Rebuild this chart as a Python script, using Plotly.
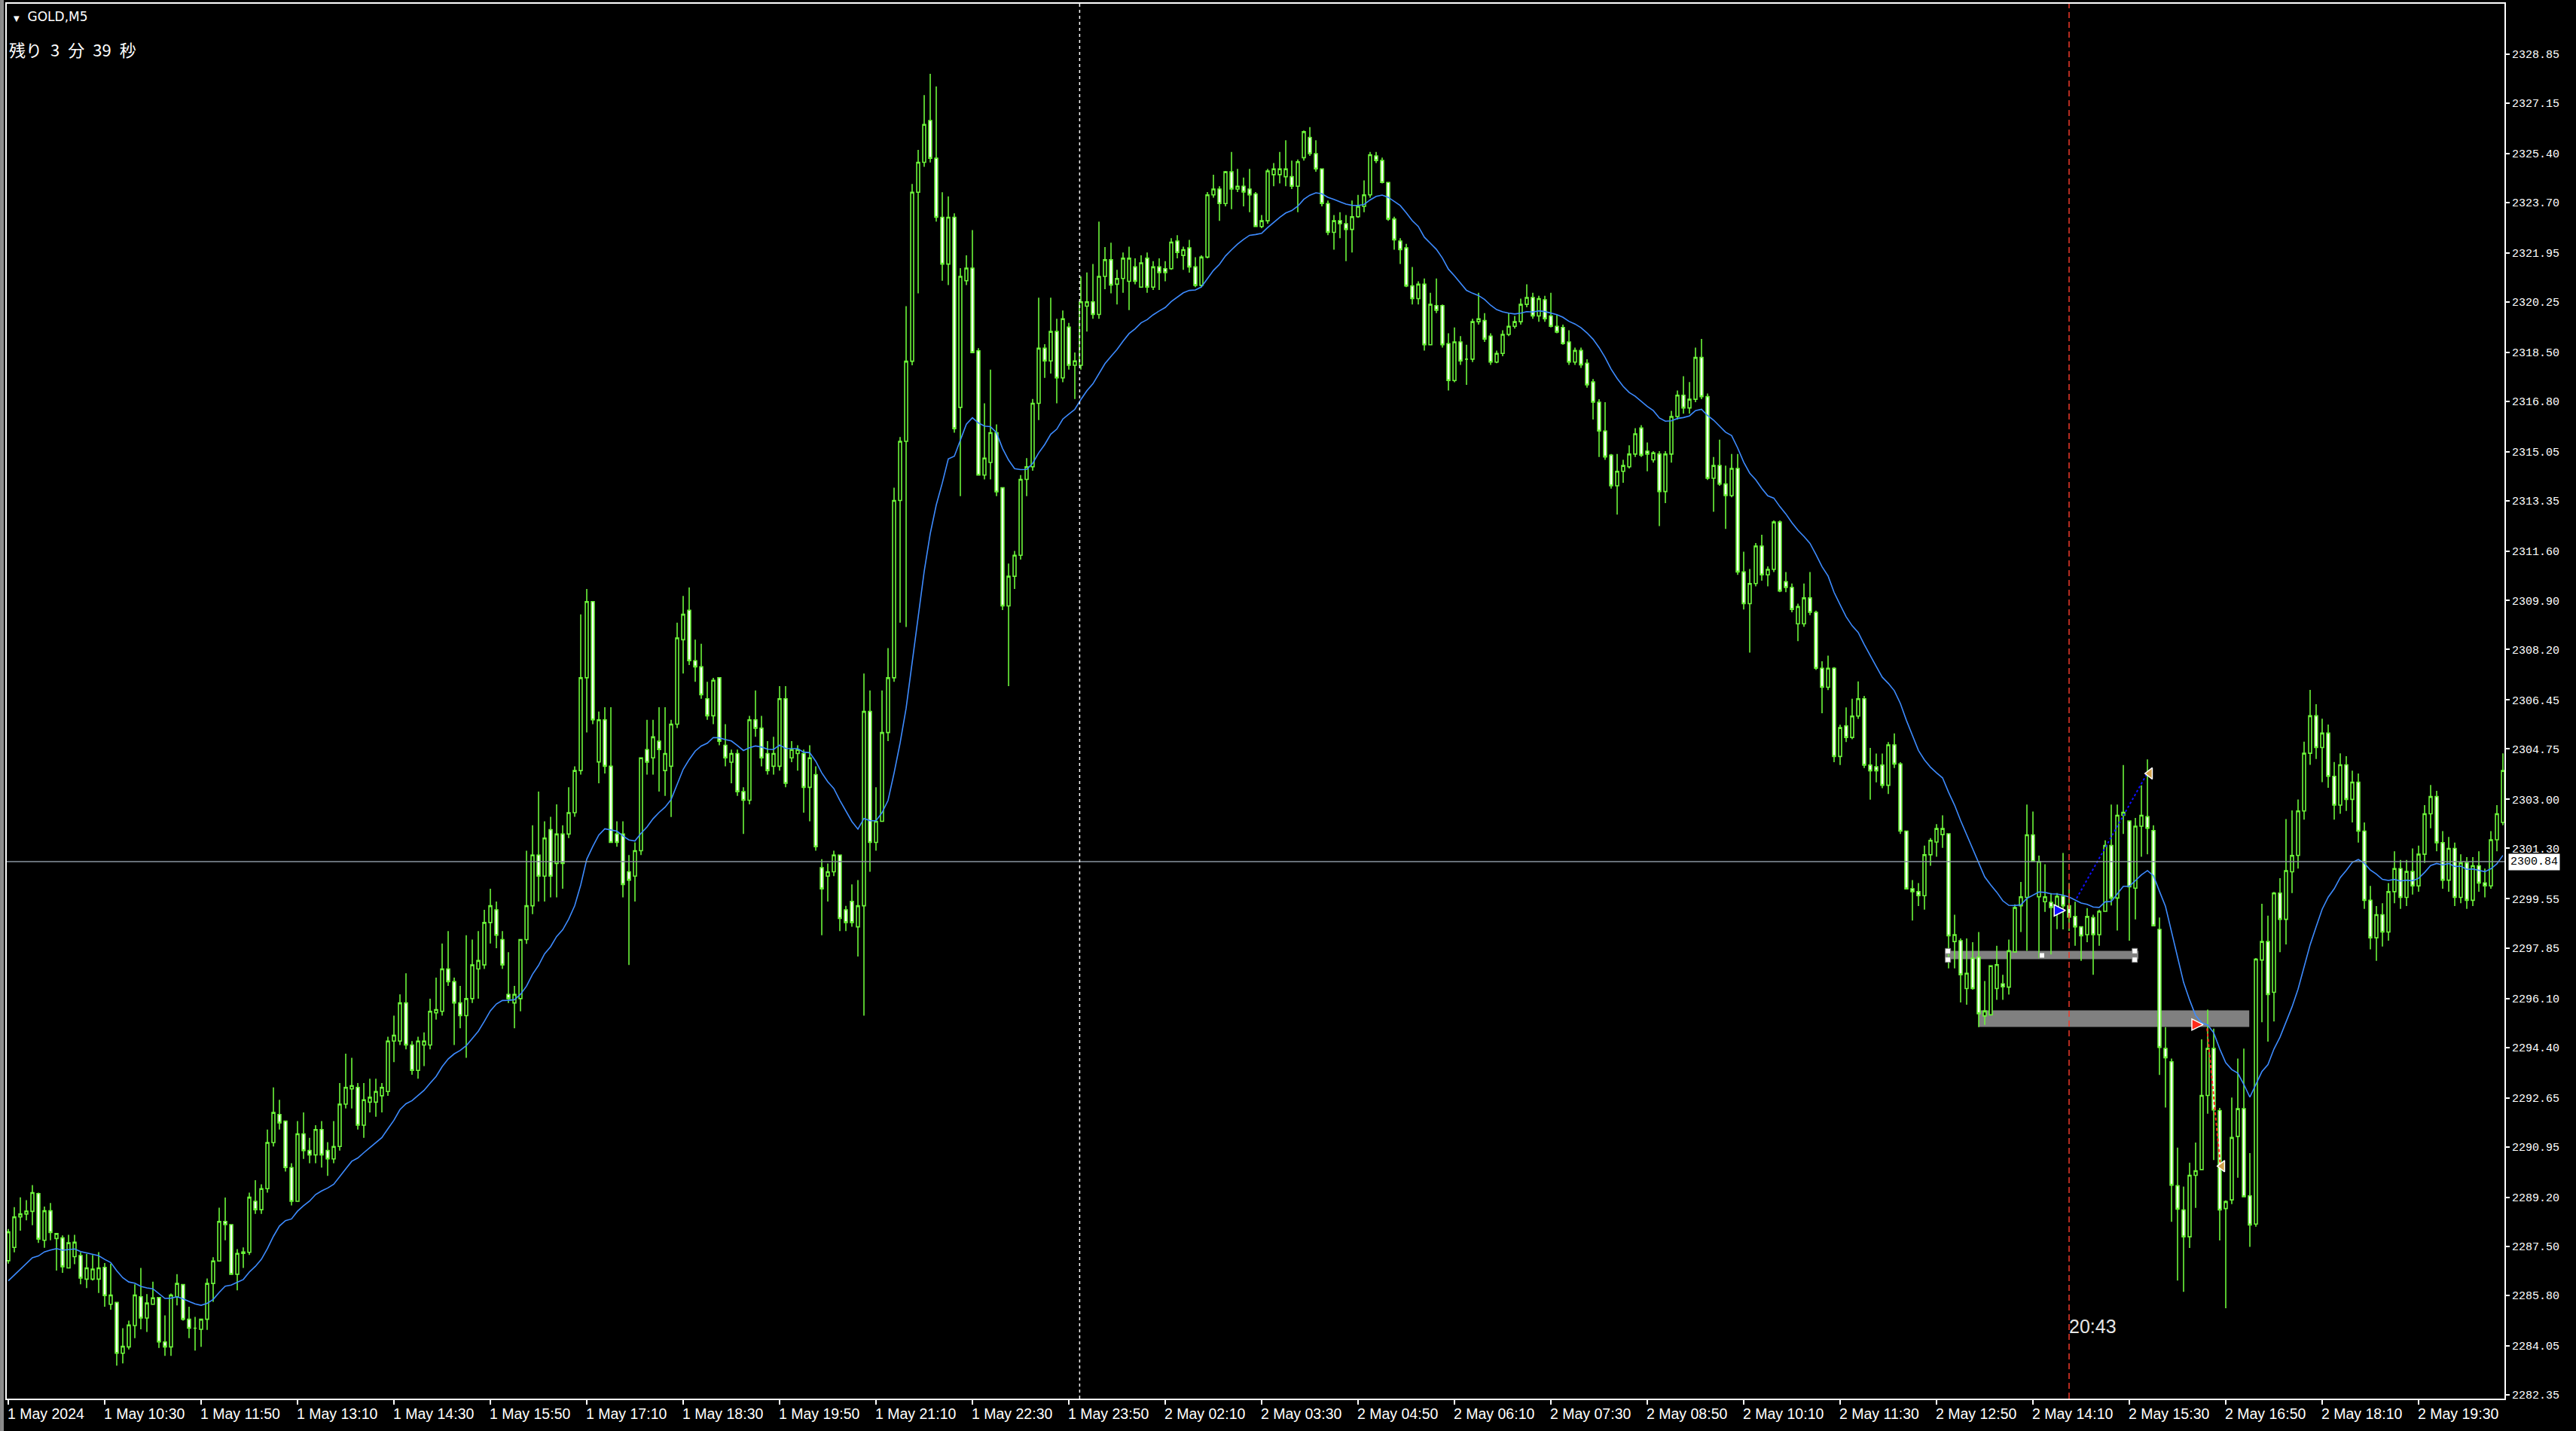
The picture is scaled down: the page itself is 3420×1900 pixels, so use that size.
import plotly.graph_objects as go

# ---------------- data ----------------
opens = [
 2287.0,2287.46,2288.52,2288.62,2288.71,2289.33,2287.71,2288.73,2287.77,2287.79,
 2286.75,2287.14,2287.18,2286.36,2286.36,2286.36,2286.77,2285.49,2285.55,2283.79,
 2284.01,2284.75,2285.75,2285.01,2285.49,2285.72,2284.18,2284.01,2285.75,2286.17,
 2284.97,2284.66,2284.62,2284.97,2286.21,2286.99,2288.36,2288.25,2286.53,2287.25,
 2287.29,2289.06,2288.77,2289.5,2291.1,2292.07,2291.84,2290.23,2289.06,2291.4,
 2290.82,2290.67,2291.55,2290.82,2290.53,2290.96,2292.43,2292.96,2293.01,2291.7,
 2292.5,2292.5,2292.72,2292.87,2294.62,2294.62,2295.94,2294.48,2293.6,2294.48,
 2294.48,2295.6,2295.65,2297.12,2296.68,2295.94,2295.5,2296.09,2297.12,2297.26,
 2298.73,2299.17,2298.14,2296.24,2295.94,2296.09,2298.14,2299.31,2301.07,2300.34,
 2301.95,2300.78,2301.8,2301.8,2302.54,2304.0,2307.22,2309.86,2304.3,2305.76,
 2304.15,2301.8,2301.8,2300.49,2300.34,2301.22,2304.73,2304.44,2305.02,2304.0,
 2304.15,2305.61,2308.54,2309.56,2307.81,2307.6,2306.49,2305.9,2307.22,2304.88,
 2304.29,2304.59,2303.27,2302.97,2305.76,2305.47,2304.59,2304.15,2304.15,2306.49,
 2304.44,2304.59,2304.59,2303.42,2303.86,2300.63,2300.34,2300.49,2301.07,2299.17,
 2299.46,2298.58,2299.31,2306.05,2301.51,2302.24,2305.32,2307.22,2313.37,2315.42,
 2318.2,2324.06,2325.1,2326.55,2325.24,2323.19,2321.57,2323.19,2316.6,2320.99,
 2321.43,2318.56,2314.25,2314.69,2315.72,2313.81,2309.71,2310.74,2311.47,2314.1,
 2314.54,2316.74,2318.65,2318.21,2319.23,2317.62,2319.38,2318.06,2318.06,2320.11,
 2320.26,2319.82,2321.14,2321.72,2320.87,2321.07,2320.97,2321.47,2320.77,2321.77,
 2320.77,2321.47,2321.41,2321.41,2322.37,2321.87,2322.13,2321.47,2320.83,2321.81,
 2323.97,2324.17,2323.67,2324.77,2324.17,2324.27,2324.17,2324.0,2322.87,2323.07,
 2324.67,2324.67,2324.6,2324.6,2324.27,2325.26,2325.96,2325.4,2324.87,2323.67,
 2322.67,2323.07,2322.97,2322.77,2323.21,2323.57,2323.97,2325.32,2325.16,2324.4,
 2323.13,2322.37,2322.13,2320.81,2320.37,2320.87,2318.77,2320.13,2320.13,2318.81,
 2317.53,2318.87,2318.27,2318.27,2319.57,2319.61,2319.07,2318.17,2318.47,2319.13,
 2319.41,2319.57,2320.17,2320.41,2319.77,2320.33,2319.77,2319.41,2319.37,2318.87,
 2318.17,2318.57,2318.13,2317.48,2316.78,2315.78,2314.94,2313.88,2314.38,2314.54,
 2314.98,2315.88,2315.08,2314.78,2314.98,2313.68,2314.98,2316.28,2317.02,2316.58,
 2316.88,2318.33,2316.97,2314.14,2314.58,2313.94,2313.54,2314.48,2310.89,2309.79,
 2310.49,2311.79,2310.79,2310.98,2312.62,2310.55,2310.35,2309.09,2309.09,2309.99,
 2309.49,2307.55,2306.89,2307.55,2304.49,2305.55,2305.15,2305.89,2306.49,2304.19,
 2304.13,2304.19,2303.49,2304.89,2304.23,2301.9,2299.9,2299.8,2299.66,2301.08,
 2301.52,2301.78,2301.81,2298.07,2298.1,2296.44,2297.49,2297.53,2295.49,2295.53,
 2296.44,2296.6,2296.49,2297.71,2299.31,2299.6,2301.77,2299.62,2299.45,2299.43,
 2299.25,2299.64,2299.31,2298.94,2298.58,2298.31,2298.9,2298.31,2299.12,2301.4,
 2299.58,2302.45,2302.25,2299.92,2302.07,2302.4,2301.92,2298.49,2294.36,2293.9,
 2289.6,2288.76,2287.83,2289.96,2290.16,2292.73,2294.36,2292.21,2288.81,2289.11,
 2291.31,2292.27,2289.25,2288.27,2297.43,2298.07,2296.31,2299.75,2298.84,2300.49,
 2301.06,2302.6,2304.6,2305.9,2304.8,2305.3,2303.8,2302.8,2304.2,2303.0,
 2303.6,2301.9,2299.5,2298.2,2299.0,2298.4,2299.8,2300.6,2299.6,2300.5,
 2300.0,2301.1,2302.5,2303.1,2301.5,2300.2,2301.3,2299.6,2300.8,2299.5,
 2300.7,2300.1,2300.0,2301.6,2302.2,
]
highs = [
 2288.1,2288.86,2289.2,2289.1,2289.62,2289.36,2288.88,2289.0,2287.94,2287.88,
 2287.9,2287.9,2287.3,2287.23,2287.2,2287.3,2286.92,2286.9,2285.55,2284.66,
 2284.92,2286.18,2286.75,2285.84,2286.27,2285.72,2285.1,2285.86,2286.53,2286.17,
 2285.4,2285.05,2284.97,2286.38,2287.12,2288.84,2289.19,2288.25,2287.4,2287.46,
 2289.36,2289.79,2289.65,2291.55,2293.01,2292.58,2291.84,2290.38,2291.84,2292.14,
 2291.26,2291.7,2291.84,2291.11,2291.84,2293.16,2294.18,2294.04,2293.16,2293.16,
 2293.31,2293.31,2293.16,2294.77,2295.5,2296.24,2296.97,2294.62,2294.77,2294.92,
 2296.09,2296.82,2298.0,2298.43,2296.82,2296.53,2298.29,2298.14,2298.43,2299.17,
 2299.9,2299.46,2298.43,2297.7,2296.53,2298.14,2301.22,2302.1,2303.27,2302.24,
 2302.4,2302.83,2302.1,2303.42,2304.15,2309.42,2310.3,2309.86,2306.05,2306.2,
 2306.2,2302.24,2302.24,2301.07,2301.51,2304.44,2305.76,2305.76,2306.2,2306.2,
 2305.76,2309.13,2310.06,2310.35,2308.54,2308.4,2307.08,2307.22,2307.22,2305.61,
 2304.73,2304.73,2303.42,2305.9,2306.78,2305.9,2305.02,2305.17,2306.93,2306.93,
 2305.02,2304.88,2304.73,2304.88,2304.15,2300.93,2300.78,2301.22,2301.07,2299.31,
 2300.05,2300.2,2307.37,2306.78,2303.42,2306.78,2308.25,2313.81,2315.57,2320.11,
 2324.35,2325.53,2327.43,2328.17,2327.73,2324.06,2323.92,2323.33,2321.43,2321.87,
 2322.75,2318.65,2316.74,2317.91,2316.01,2313.81,2311.18,2311.62,2314.25,2314.84,
 2316.89,2320.4,2318.79,2320.4,2319.67,2319.96,2319.53,2318.5,2321.14,2321.28,
 2321.57,2323.04,2322.16,2322.31,2321.37,2321.97,2322.17,2321.77,2321.87,2321.97,
 2321.67,2321.77,2321.67,2322.47,2322.57,2322.17,2322.41,2321.81,2321.87,2324.07,
 2324.67,2324.27,2324.8,2325.46,2324.87,2324.57,2324.87,2324.07,2323.27,2324.87,
 2325.07,2325.46,2325.86,2325.16,2325.2,2326.2,2326.32,2325.86,2324.87,2323.77,
 2323.27,2323.37,2323.27,2323.77,2323.97,2324.47,2325.46,2325.46,2325.26,2324.4,
 2323.21,2322.47,2322.27,2321.47,2320.97,2321.07,2320.57,2321.07,2320.17,2319.17,
 2319.37,2319.07,2318.77,2319.67,2320.57,2319.87,2319.17,2318.57,2319.27,2319.87,
 2319.77,2320.37,2320.87,2320.57,2320.47,2320.47,2320.57,2319.81,2319.47,2319.27,
 2318.67,2318.67,2318.27,2317.58,2316.88,2316.78,2314.98,2314.98,2314.78,2315.28,
 2315.88,2315.98,2315.38,2315.08,2315.08,2315.08,2316.48,2317.18,2317.68,2317.48,
 2318.67,2318.97,2317.08,2314.88,2315.48,2314.58,2314.98,2314.98,2311.59,2310.99,
 2311.89,2312.18,2311.08,2312.68,2312.68,2310.89,2310.49,2309.79,2310.49,2310.89,
 2309.55,2307.79,2307.99,2307.59,2305.59,2306.19,2306.49,2307.09,2306.59,2304.79,
 2304.59,2304.59,2304.99,2305.29,2304.29,2301.9,2300.2,2300.1,2301.4,2301.66,
 2302.14,2302.45,2301.81,2299.0,2298.18,2298.18,2298.05,2298.4,2296.7,2297.23,
 2297.92,2296.92,2298.14,2299.36,2300.14,2302.82,2302.58,2301.05,2300.75,2299.75,
 2299.75,2301.14,2300.1,2299.45,2298.58,2299.23,2299.0,2299.18,2301.58,2302.82,
 2302.82,2304.19,2302.25,2302.36,2303.49,2304.39,2302.1,2298.9,2295.1,2294.01,
 2290.92,2289.57,2290.4,2291.1,2294.68,2295.71,2295.05,2292.3,2289.09,2292.66,
 2294.01,2294.36,2290.73,2297.5,2299.38,2298.97,2299.79,2300.27,2302.32,2302.62,
 2303.0,2305.0,2306.8,2306.3,2305.8,2305.6,2304.3,2304.6,2304.5,2304.0,
 2303.9,2302.2,2300.0,2299.3,2299.4,2300.1,2301.2,2300.9,2300.9,2301.3,
 2301.4,2302.8,2303.5,2303.3,2301.9,2301.7,2301.5,2301.1,2301.0,2301.0,
 2301.2,2300.6,2301.9,2302.8,2304.6,
]
lows = [
 2286.9,2287.29,2288.04,2288.4,2288.23,2287.62,2287.45,2287.71,2286.66,2286.58,
 2286.75,2286.88,2286.18,2286.05,2286.31,2285.88,2285.4,2285.3,2283.36,2283.44,
 2283.92,2284.31,2284.62,2284.53,2285.49,2283.97,2283.7,2283.7,2285.45,2284.92,
 2284.31,2283.88,2284.01,2284.6,2285.57,2286.99,2287.71,2286.53,2285.97,2286.75,
 2287.2,2288.62,2288.62,2289.36,2290.96,2291.55,2290.09,2288.92,2289.06,2290.53,
 2290.38,2290.38,2290.23,2289.94,2290.38,2290.82,2292.28,2292.28,2291.55,2291.26,
 2292.14,2291.99,2292.14,2292.72,2293.89,2294.48,2294.33,2293.45,2293.31,2293.75,
 2294.33,2295.36,2295.5,2296.53,2294.48,2295.06,2294.04,2295.94,2296.09,2297.12,
 2298.0,2297.84,2297.12,2295.94,2295.06,2295.65,2297.99,2299.02,2299.46,2299.46,
 2299.6,2299.6,2299.9,2301.66,2302.4,2303.86,2305.32,2305.61,2303.56,2303.9,
 2301.5,2301.36,2299.6,2297.26,2299.46,2301.07,2303.86,2303.86,2303.27,2303.12,
 2302.39,2305.47,2307.37,2307.66,2307.08,2306.49,2305.76,2305.61,2304.88,2304.15,
 2303.56,2303.12,2301.8,2302.83,2305.17,2304.15,2303.86,2303.86,2304.0,2303.42,
 2304.29,2304.0,2302.54,2302.24,2301.22,2298.29,2299.46,2300.34,2298.43,2298.43,
 2298.58,2297.55,2295.5,2300.49,2301.22,2302.24,2305.02,2307.08,2309.13,2308.98,
 2318.06,2320.55,2324.94,2325.09,2323.04,2320.99,2320.84,2315.72,2313.52,2320.84,
 2318.5,2314.25,2314.1,2314.1,2313.52,2309.57,2306.93,2310.3,2311.32,2313.52,
 2314.4,2316.16,2317.62,2317.77,2316.74,2317.47,2317.91,2316.89,2317.91,2319.23,
 2319.67,2319.67,2320.7,2320.55,2320.17,2320.57,2319.97,2320.87,2320.77,2320.57,
 2320.67,2320.67,2320.97,2321.37,2321.77,2321.37,2321.27,2320.77,2320.77,2321.77,
 2323.87,2323.07,2323.57,2323.47,2324.07,2323.57,2323.37,2322.87,2322.81,2322.97,
 2324.27,2324.37,2324.27,2324.17,2323.37,2325.16,2325.32,2324.77,2323.57,2322.57,
 2322.07,2322.47,2321.67,2321.97,2323.17,2323.37,2323.87,2325.07,2324.37,2323.07,
 2322.07,2321.57,2320.77,2320.17,2320.17,2318.57,2318.77,2319.87,2318.67,2317.18,
 2317.47,2318.07,2317.38,2318.17,2319.47,2318.87,2318.07,2318.13,2318.37,2319.07,
 2319.33,2319.47,2320.07,2319.67,2319.57,2319.57,2319.37,2319.17,2318.77,2318.07,
 2318.07,2317.97,2317.28,2316.18,2314.88,2314.78,2313.78,2312.88,2313.98,2314.48,
 2314.88,2314.88,2314.38,2314.68,2312.48,2313.28,2314.68,2316.18,2316.38,2316.38,
 2316.78,2316.88,2314.08,2312.98,2313.88,2312.38,2313.48,2310.79,2309.59,2308.09,
 2310.39,2310.59,2310.39,2310.89,2310.19,2310.19,2309.49,2308.49,2308.99,2309.39,
 2307.49,2305.99,2306.79,2304.29,2304.19,2304.99,2305.09,2305.79,2304.09,2302.99,
 2303.59,2303.39,2303.19,2304.09,2301.8,2299.9,2298.8,2299.3,2299.18,2300.7,
 2301.01,2301.32,2297.14,2297.14,2295.96,2295.88,2296.4,2295.1,2295.18,2295.53,
 2296.05,2296.05,2296.23,2297.71,2298.4,2297.75,2300.85,2297.49,2299.1,2297.62,
 2298.5,2298.49,2298.44,2297.92,2297.4,2298.05,2296.92,2297.92,2299.1,2299.32,
 2298.45,2301.8,2298.1,2298.84,2301.01,2301.1,2298.62,2293.44,2292.31,2288.35,
 2286.31,2285.92,2287.44,2288.83,2290.14,2292.1,2290.49,2287.7,2285.35,2288.96,
 2289.88,2289.22,2287.48,2288.18,2295.27,2294.6,2295.3,2297.7,2297.97,2299.75,
 2300.6,2302.3,2304.2,2304.4,2303.6,2303.4,2302.3,2302.5,2302.6,2302.2,
 2301.5,2299.2,2297.8,2297.4,2297.9,2298.1,2299.4,2299.2,2299.3,2299.7,
 2299.8,2300.8,2302.0,2301.2,2299.9,2299.8,2299.3,2299.4,2299.2,2299.3,
 2299.8,2299.6,2299.9,2301.2,2302.1,
]
closes = [
 2288.0,2288.52,2288.62,2288.72,2289.36,2287.75,2288.73,2287.98,2287.94,2286.79,
 2287.62,2287.64,2286.4,2286.75,2286.71,2286.75,2285.79,2285.81,2283.79,2284.03,
 2284.77,2285.81,2285.01,2285.53,2285.71,2284.18,2284.01,2285.81,2286.21,2284.97,
 2284.66,2284.66,2284.97,2286.21,2286.99,2288.36,2288.25,2286.53,2287.25,2287.3,
 2289.2,2288.77,2289.5,2291.1,2292.14,2291.78,2290.23,2289.06,2291.4,2290.82,
 2290.67,2291.55,2290.67,2290.53,2290.96,2292.43,2293.01,2293.07,2291.7,2292.58,
 2292.67,2292.87,2293.01,2294.62,2294.82,2295.94,2294.48,2293.6,2294.62,2294.62,
 2295.65,2295.71,2297.12,2296.68,2295.94,2295.5,2296.09,2297.26,2297.41,2298.73,
 2299.31,2298.29,2297.26,2296.09,2296.24,2298.14,2299.31,2301.07,2300.34,2301.66,
 2300.34,2301.8,2300.78,2302.54,2304.0,2307.22,2309.86,2305.76,2305.76,2304.15,
 2301.51,2301.51,2300.05,2300.2,2301.22,2304.44,2304.29,2305.17,2304.73,2304.59,
 2305.61,2308.6,2309.42,2307.81,2307.6,2306.63,2305.9,2307.13,2305.02,2304.44,
 2304.59,2303.27,2302.97,2305.76,2305.47,2304.44,2304.0,2304.59,2306.49,2303.56,
 2304.73,2304.73,2303.42,2304.44,2301.36,2299.9,2300.49,2301.07,2298.87,2298.73,
 2298.73,2299.31,2306.05,2301.51,2302.24,2305.32,2307.22,2313.37,2315.42,2318.2,
 2324.06,2325.1,2326.41,2325.24,2323.19,2321.57,2323.19,2315.86,2321.14,2321.43,
 2318.5,2314.25,2314.84,2315.72,2313.67,2309.71,2310.74,2311.47,2314.1,2314.54,
 2316.74,2318.65,2318.21,2319.23,2317.62,2319.67,2318.06,2318.21,2320.26,2320.26,
 2319.82,2321.14,2321.72,2320.84,2321.07,2321.77,2321.77,2320.97,2321.61,2320.77,
 2321.47,2321.27,2321.27,2322.33,2321.97,2322.07,2321.47,2320.83,2321.81,2323.97,
 2324.17,2323.67,2324.77,2324.17,2324.27,2324.07,2323.97,2322.87,2323.07,2324.8,
 2324.87,2324.87,2324.87,2324.27,2325.12,2326.16,2325.4,2324.87,2323.67,2322.67,
 2323.07,2322.97,2322.77,2323.21,2323.57,2323.97,2325.36,2325.16,2324.4,2323.13,
 2322.41,2322.07,2320.81,2320.37,2320.87,2318.77,2320.17,2319.97,2318.77,2317.53,
 2318.87,2318.21,2318.27,2319.57,2319.67,2318.97,2318.17,2318.47,2319.13,2319.41,
 2319.57,2320.17,2320.41,2319.77,2320.37,2319.67,2319.41,2319.21,2318.81,2318.17,
 2318.57,2318.07,2317.38,2316.78,2315.78,2314.88,2313.88,2314.38,2314.58,2314.98,
 2315.68,2314.94,2314.98,2315.02,2313.68,2314.98,2316.28,2317.02,2316.58,2316.88,
 2318.33,2316.97,2314.14,2314.58,2313.94,2313.54,2314.48,2310.89,2309.79,2310.49,
 2311.79,2310.79,2310.98,2312.62,2310.23,2310.35,2309.59,2309.69,2309.99,2309.49,
 2307.55,2306.89,2307.55,2304.49,2305.49,2305.15,2305.89,2306.49,2304.19,2303.99,
 2303.99,2303.49,2304.89,2304.23,2301.9,2299.9,2299.8,2299.66,2301.08,2301.58,
 2301.99,2301.99,2298.27,2298.31,2296.92,2296.97,2296.44,2295.57,2295.66,2297.23,
 2297.27,2296.5,2297.75,2299.25,2299.62,2301.77,2300.85,2300.85,2299.62,2299.25,
 2299.64,2299.31,2298.92,2298.58,2298.27,2298.94,2298.31,2299.12,2301.4,2299.58,
 2302.45,2302.55,2299.97,2302.07,2302.45,2302.0,2298.62,2294.4,2294.04,2289.62,
 2288.79,2287.83,2289.96,2290.12,2292.73,2294.36,2292.23,2288.76,2289.05,2291.27,
 2292.27,2289.22,2288.24,2297.46,2298.07,2296.23,2299.75,2298.84,2300.53,2301.06,
 2302.6,2304.6,2305.9,2304.8,2305.3,2303.8,2302.8,2304.2,2303.0,2303.6,
 2301.9,2299.5,2298.2,2299.0,2298.4,2299.8,2300.6,2299.6,2300.5,2300.0,
 2301.1,2302.5,2303.1,2301.5,2300.2,2301.3,2299.6,2300.8,2299.5,2300.7,
 2300.1,2300.0,2301.6,2302.5,2304.0,
]

# moving average (EMA) settings: period and its value on the first visible bar
ma_period = 21
ma_start_value = 2286.3

# x-axis labels: (bar index, text)
x_label_bars = [0,16,32,48,64,80,96,112,128,144,160,176,192,208,224,240,256,272,288,304,320,336,352,368,384,400]
x_label_texts = ["1 May 2024","1 May 10:30","1 May 11:50","1 May 13:10","1 May 14:30","1 May 15:50",
                 "1 May 17:10","1 May 18:30","1 May 19:50","1 May 21:10","1 May 22:30","1 May 23:50",
                 "2 May 02:10","2 May 03:30","2 May 04:50","2 May 06:10","2 May 07:30","2 May 08:50",
                 "2 May 10:10","2 May 11:30","2 May 12:50","2 May 14:10","2 May 15:30","2 May 16:50",
                 "2 May 18:10","2 May 19:30"]
# y-axis labels
y_tick_texts = ["2328.85","2327.15","2325.40","2323.70","2321.95","2320.25","2318.50","2316.80",
                "2315.05","2313.35","2311.60","2309.90","2308.20","2306.45","2304.75","2303.00",
                "2301.30","2299.55","2297.85","2296.10","2294.40","2292.65","2290.95","2289.20",
                "2287.50","2285.80","2284.05","2282.35"]

current_price = 2300.84
bar_range = [-0.25, 414.25]
price_range = [2282.216, 2330.598]

day_separator_bar = 177.8
red_line_bar = 342.0
red_line_label = "20:43"
red_line_label_price = 2284.72

# gray zones: [x0 bar, x1 bar, y0 price, y1 price]
zone_upper = [321.4, 353.5, 2297.46, 2297.75]
zone_lower = [327.0, 371.9, 2295.11, 2295.68]
handle_x = [321.9, 321.9, 352.9, 352.9, 337.5]
handle_y = [2297.74, 2297.44, 2297.74, 2297.44, 2297.59]

# trades
buy_arrow = (341.4, 2299.15)
buy_close = (355.4, 2303.9)
buy_line_x = [343.25, 354.9]
buy_line_y = [2299.57, 2303.88]
sell_arrow = (364.25, 2295.19)
sell_close = (367.4, 2290.28)
sell_line_x = [364.9, 367.1]
sell_line_y = [2295.06, 2290.31]

symbol_label = "<span style='font-size:10px'>▼</span>  GOLD,M5"
timer_label = "残り\u20023\u2002分\u200239\u2002秒"

# ---------------- styling ----------------
GREEN = "#6CF53A"
MA_BLUE = "#3D8BFF"
GRID_GRAY = "#8A96A0"

highs = [max(h, o, c) for h, o, c in zip(highs, opens, closes)]
lows = [min(l, o, c) for l, o, c in zip(lows, opens, closes)]
N = len(closes)
bars = list(range(N))

k = 2.0 / (ma_period + 1)
ma = [ma_start_value]
for c in closes[1:]:
    ma.append(ma[-1] + k * (c - ma[-1]))

fig = go.Figure()

for z in (zone_upper, zone_lower):
    fig.add_shape(type="rect", xref="x", yref="y", x0=z[0], x1=z[1], y0=z[2], y1=z[3],
                  fillcolor="#808080", line=dict(width=0), layer="below")

fig.add_trace(go.Candlestick(
    x=bars, open=opens, high=highs, low=lows, close=closes,
    increasing=dict(fillcolor="black", line=dict(color=GREEN, width=1.6)),
    decreasing=dict(fillcolor="white", line=dict(color=GREEN, width=1.6)),
    whiskerwidth=0, hoverinfo="skip", showlegend=False))

fig.add_trace(go.Scatter(x=bars, y=ma, mode="lines",
                         line=dict(color=MA_BLUE, width=1.6), hoverinfo="skip", showlegend=False))

fig.add_trace(go.Scatter(x=handle_x, y=handle_y, mode="markers",
                         marker=dict(symbol="square", size=7, color="white",
                                     line=dict(color="#808080", width=1)),
                         hoverinfo="skip", showlegend=False))

fig.add_trace(go.Scatter(x=buy_line_x, y=buy_line_y, mode="lines",
                         line=dict(color="#1010FF", width=2, dash="dot"), hoverinfo="skip", showlegend=False))
fig.add_trace(go.Scatter(x=sell_line_x, y=sell_line_y, mode="lines",
                         line=dict(color="#FF2A1A", width=2, dash="4px,3px"), hoverinfo="skip", showlegend=False))
fig.add_trace(go.Scatter(x=[buy_arrow[0]], y=[buy_arrow[1]], mode="markers",
                         marker=dict(symbol="arrow-right", size=15, color="#1010FF",
                                     line=dict(color="white", width=1.5)),
                         hoverinfo="skip", showlegend=False))
fig.add_trace(go.Scatter(x=[sell_arrow[0]], y=[sell_arrow[1]], mode="markers",
                         marker=dict(symbol="arrow-right", size=15, color="#FF2A1A",
                                     line=dict(color="white", width=1.5)),
                         hoverinfo="skip", showlegend=False))
fig.add_trace(go.Scatter(x=[buy_close[0], sell_close[0]], y=[buy_close[1], sell_close[1]], mode="markers",
                         marker=dict(symbol="triangle-left", size=13, color="#D2A24C",
                                     line=dict(color="white", width=1.5)),
                         hoverinfo="skip", showlegend=False))

fig.add_shape(type="line", xref="paper", yref="y", x0=0, x1=1, y0=current_price, y1=current_price,
              line=dict(color=GRID_GRAY, width=1.5))
fig.add_shape(type="line", xref="x", yref="paper", x0=day_separator_bar, x1=day_separator_bar, y0=0, y1=1,
              line=dict(color="white", width=1.5, dash="4px,4px"))
fig.add_shape(type="line", xref="x", yref="paper", x0=red_line_bar, x1=red_line_bar, y0=0, y1=1,
              line=dict(color="#F03A2A", width=1.5, dash="8px,5px"))
fig.add_shape(type="rect", xref="paper", yref="paper", x0=-0.0027, x1=-0.0012, y0=-0.03, y1=1.01,
              fillcolor="#8C8C8C", line=dict(width=0))

annotations = []
for b, t in zip(x_label_bars, x_label_texts):
    annotations.append(dict(x=b, xref="x", y=0, yref="paper", yanchor="top", xanchor="left",
                            xshift=-3, yshift=-7, text=t, showarrow=False,
                            font=dict(family="Liberation Sans, Arial, sans-serif", size=19.5, color="white")))
annotations.append(dict(x=1, xref="paper", y=current_price, yref="y", xanchor="left", yanchor="middle",
                        xshift=5, text=f"{current_price:.2f}", showarrow=False, bgcolor="white",
                        borderpad=2,
                        font=dict(family="Liberation Mono, monospace", size=15, color="black")))
annotations.append(dict(x=red_line_bar, xref="x", y=red_line_label_price, yref="y", xanchor="left",
                        yanchor="middle", xshift=-2, text=red_line_label, showarrow=False,
                        font=dict(family="Liberation Sans, Arial, sans-serif", size=25, color="#E6E6E6")))
annotations.append(dict(x=0, xref="paper", y=1, yref="paper", xanchor="left", yanchor="middle",
                        xshift=7, yshift=-17, text=symbol_label, showarrow=False,
                        font=dict(family="DejaVu Sans, sans-serif", size=17, color="white")))
annotations.append(dict(x=0, xref="paper", y=1, yref="paper", xanchor="left", yanchor="middle",
                        xshift=1, yshift=-60, text=timer_label, showarrow=False,
                        font=dict(family="Noto Sans CJK JP, sans-serif", size=22, color="white")))

fig.update_layout(
    width=3420, height=1900,
    paper_bgcolor="black", plot_bgcolor="black",
    margin=dict(l=9, r=95, t=3, b=43),
    showlegend=False, hovermode=False,
    annotations=annotations,
    xaxis=dict(range=bar_range, showgrid=False, zeroline=False, showline=True, linecolor="white",
               linewidth=2, mirror=True, ticks="outside", tickvals=x_label_bars, ticklen=6,
               tickcolor="white", tickwidth=1.5, showticklabels=False,
               rangeslider=dict(visible=False), fixedrange=True),
    yaxis=dict(range=price_range, side="right", showgrid=False, zeroline=False, showline=True,
               linecolor="white", linewidth=2, mirror=True, ticks="outside", ticklen=5,
               tickcolor="white", tickwidth=1.5,
               tickvals=[float(s) for s in y_tick_texts], ticktext=y_tick_texts,
               tickfont=dict(family="Liberation Mono, monospace", size=15, color="white"),
               fixedrange=True),
)

fig.write_html("out.html", config={"displayModeBar": False},
               post_script="document.body.style.margin='0';document.body.style.overflow='hidden';")
